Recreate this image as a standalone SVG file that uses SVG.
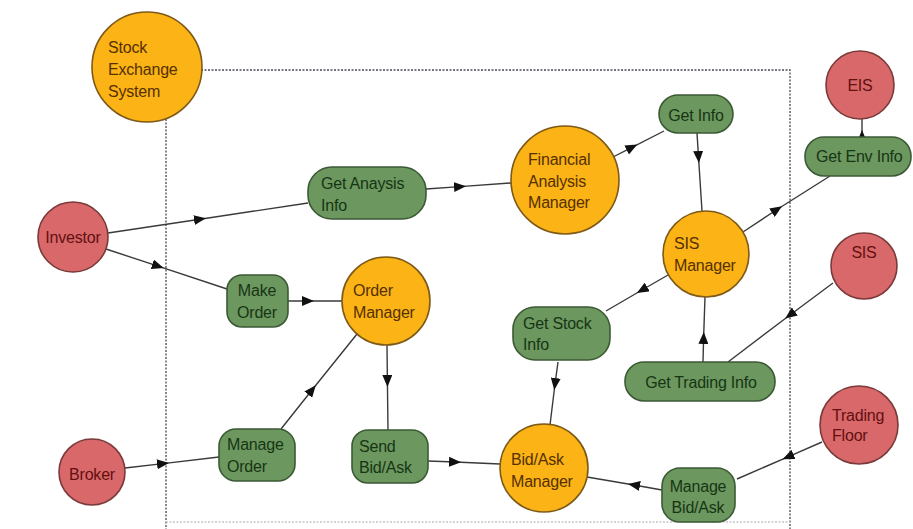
<svg xmlns="http://www.w3.org/2000/svg" width="913" height="529" viewBox="0 0 913 529">
<style>
  text { font-family: "Liberation Sans", Arial, sans-serif; font-size: 16px; letter-spacing: -0.2px; }
  .org circle { fill: #fbb315; stroke: #7d5a18; stroke-width: 1.6; }
  .org text { fill: #553000; }
  .grn rect { fill: #6c975f; stroke: #3b5a35; stroke-width: 1.6; }
  .grn text { fill: #173514; }
  .red circle { fill: #d9686a; stroke: #7a3a3a; stroke-width: 1.6; }
  .red text { fill: #621010; }
  .mid { text-anchor: middle; }
  #connectors path { fill: none; stroke: #3a3a3a; stroke-width: 1.4; marker-mid: url(#arr); }
  .boundary { fill: none; stroke: #4a4a55; stroke-width: 1.3; stroke-dasharray: 2 1.5; }
  .boundary-faint { fill: none; stroke: #c8c8cc; stroke-width: 1.3; stroke-dasharray: 2 1.5; }
</style>
<defs>
  <marker id="arr" viewBox="0 0 12 10" refX="6" refY="5" markerWidth="12" markerHeight="10" markerUnits="userSpaceOnUse" orient="auto">
    <path d="M0,0 L12,5 L0,10 z" fill="#111"/>
  </marker>
</defs>
<rect width="913" height="529" fill="#ffffff"/>
<path class="boundary" d="M166,70 H790 V529 M166,70 V529"/>
<path class="boundary-faint" d="M166,522 H790"/>

<g id="connectors">
  <path d="M108,233 L200,219.2 L308,203"/>
  <path d="M106,249 L158,266.2 L227,289"/>
  <path d="M288,301 L308,301 L342,301"/>
  <path d="M426,189 L460,186.6 L511,183"/>
  <path d="M613,157 L632,147.3 L664,131"/>
  <path d="M697,133 L698.5,157 L702,211"/>
  <path d="M743,232 L777,209.5 L830,176"/>
  <path d="M862,141 L862,136 L862,118"/>
  <path d="M668,275 L642,290 L606,311"/>
  <path d="M703,362 L703.6,338 L705,297"/>
  <path d="M833,283 L790,315 L728,362"/>
  <path d="M387,345 L387.4,381 L388,430"/>
  <path d="M281,429 L312,390 L357,334"/>
  <path d="M125,468 L163,463.6 L219,457"/>
  <path d="M428,461 L455,462 L500,464"/>
  <path d="M558,362 L555,384 L550,425"/>
  <path d="M662,490 L634,485 L587,477"/>
  <path d="M822,442 L788,456.8 L737,479"/>
</g>

<g id="stock-exchange-system" class="org">
  <circle cx="147" cy="67" r="55"/>
  <text x="108" y="53">Stock</text>
  <text x="108" y="75">Exchange</text>
  <text x="108" y="97">System</text>
</g>
<g id="investor" class="red">
  <circle cx="73" cy="237" r="35"/>
  <text class="mid" x="73" y="243">Investor</text>
</g>
<g id="broker" class="red">
  <circle cx="92" cy="472" r="33"/>
  <text class="mid" x="92" y="480">Broker</text>
</g>
<g id="eis" class="red">
  <circle cx="860" cy="85" r="34"/>
  <text class="mid" x="860" y="91">EIS</text>
</g>
<g id="sis" class="red">
  <circle cx="864" cy="266" r="33"/>
  <text class="mid" x="864" y="258">SIS</text>
</g>
<g id="trading-floor" class="red">
  <circle cx="859" cy="425" r="39"/>
  <text x="832" y="421">Trading</text>
  <text x="832" y="441">Floor</text>
</g>
<g id="get-anaysis-info" class="grn">
  <rect x="308" y="167" width="118" height="52" rx="24"/>
  <text x="321" y="189">Get Anaysis</text>
  <text x="321" y="211">Info</text>
</g>
<g id="make-order" class="grn">
  <rect x="227" y="275" width="61" height="52" rx="15"/>
  <text class="mid" x="257" y="296">Make</text>
  <text class="mid" x="257" y="318">Order</text>
</g>
<g id="financial-analysis-manager" class="org">
  <circle cx="565" cy="180" r="54"/>
  <text x="528" y="165">Financial</text>
  <text x="528" y="187">Analysis</text>
  <text x="528" y="208">Manager</text>
</g>
<g id="order-manager" class="org">
  <circle cx="386" cy="301" r="44"/>
  <text x="353" y="296">Order</text>
  <text x="353" y="318">Manager</text>
</g>
<g id="get-info" class="grn">
  <rect x="659" y="95" width="74" height="38" rx="19"/>
  <text class="mid" x="696" y="121">Get Info</text>
</g>
<g id="get-env-info" class="grn">
  <rect x="805" y="137" width="106" height="39" rx="19"/>
  <text x="816" y="162">Get Env Info</text>
</g>
<g id="sis-manager" class="org">
  <circle cx="706" cy="254" r="43"/>
  <text x="674" y="249">SIS</text>
  <text x="674" y="271">Manager</text>
</g>
<g id="get-stock-info" class="grn">
  <rect x="513" y="307" width="97" height="53" rx="22"/>
  <text x="523" y="329">Get Stock</text>
  <text x="523" y="350">Info</text>
</g>
<g id="get-trading-info" class="grn">
  <rect x="625" y="362" width="150" height="39" rx="19"/>
  <text class="mid" x="701" y="388">Get Trading Info</text>
</g>
<g id="manage-bid-ask" class="grn">
  <rect x="662" y="468" width="73" height="54" rx="18"/>
  <text class="mid" x="698" y="492">Manage</text>
  <text class="mid" x="698" y="513">Bid/Ask</text>
</g>
<g id="bid-ask-manager" class="org">
  <circle cx="544" cy="468" r="44"/>
  <text x="511" y="465">Bid/Ask</text>
  <text x="511" y="487">Manager</text>
</g>
<g id="send-bid-ask" class="grn">
  <rect x="352" y="430" width="76" height="53" rx="16"/>
  <text x="359" y="452">Send</text>
  <text x="359" y="473">Bid/Ask</text>
</g>
<g id="manage-order" class="grn">
  <rect x="219" y="429" width="76" height="52" rx="17"/>
  <text x="227" y="450">Manage</text>
  <text x="227" y="472">Order</text>
</g>
</svg>
